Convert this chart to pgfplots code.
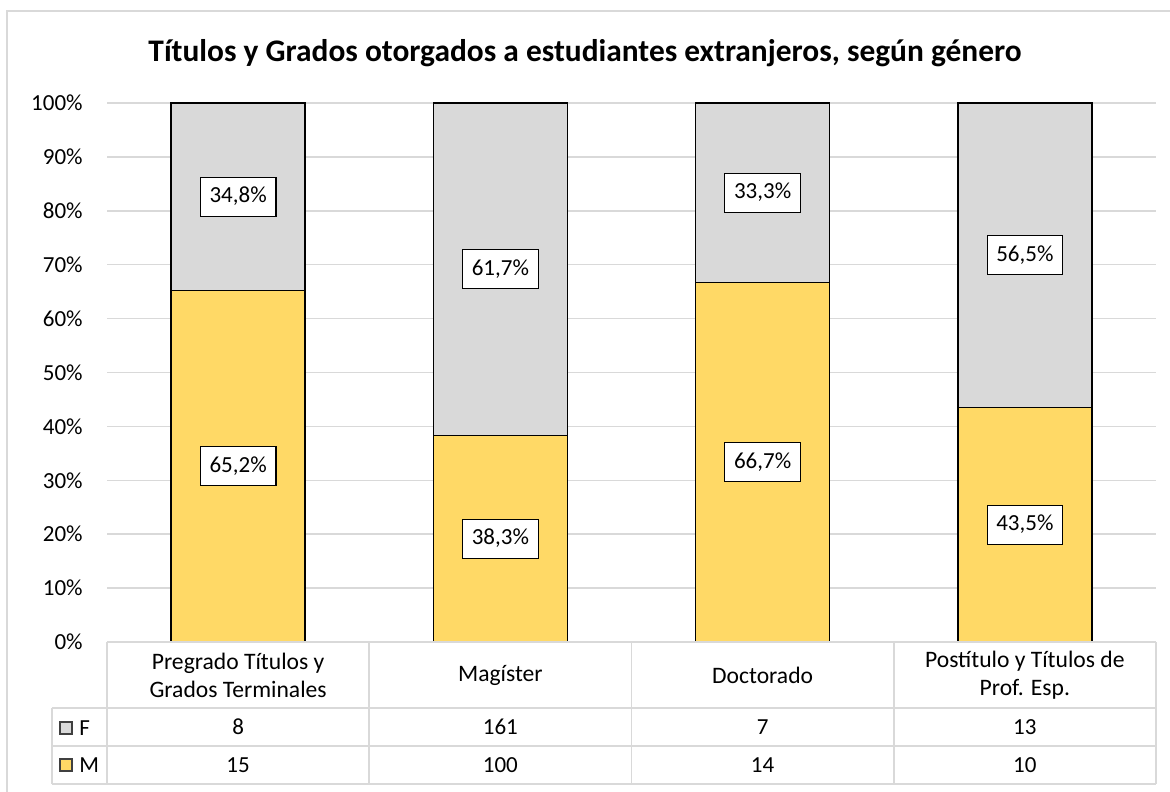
\documentclass[border=0pt]{standalone}
\usepackage{fontspec}
\setmainfont{Carlito}
\usepackage{pgfplots}
\usepackage{pgfplotstable}
\pgfplotsset{compat=1.18}
\pgfkeys{/pgf/number format/assume math mode=true}
\definecolor{myyellow}{HTML}{FFD966}
\definecolor{mygray}{HTML}{D9D9D9}
\definecolor{linegray}{HTML}{D9D9D9}
\newcommand\tfont{\fontsize{11.5}{14}\selectfont}

\pgfplotstableread{
x   Mp   Fp   Mn  Fn
0.5 65.2 34.8 15  8
1.5 38.3 61.7 100 161
2.5 66.7 33.3 14  7
3.5 43.5 56.5 10  13
}\datatab

\begin{document}
\begin{tikzpicture}
\begin{scope}[x=0.5pt,y=-0.5pt]
\path[use as bounding box] (0,0) rectangle (1170,791);
\draw[linegray, line width=1pt] (7,795) -- (7,11) -- (1175,11);
\node[font=\bfseries\fontsize{15.7}{19}\selectfont] at (585,53) {Títulos y Grados otorgados a estudiantes extranjeros, según género};
\end{scope}
\begin{axis}[
  at={(53.5pt,-321pt)}, anchor=south west,
  scale only axis, width=524.5pt, height=269.5pt,
  xmin=0, xmax=4, ymin=0, ymax=100,
  ytick={0,10,...,100},
  yticklabels={0\%,10\%,20\%,30\%,40\%,50\%,60\%,70\%,80\%,90\%,100\%},
  xtick={0.5,1.5,2.5,3.5},
  xticklabels={{Pregrado Títulos y\\Grados Terminales},Magíster,Doctorado,{Postítulo y Títulos de\\Prof. Esp.}},
  xticklabel style={align=center, anchor=center, yshift=-16.5pt, font=\fontsize{11.8}{14}\selectfont},
  yticklabel style={anchor=east, inner sep=0pt, xshift=-12pt, font=\tfont},
  clip=false,
  axis line style={draw=none},
  major tick length=0pt,
  ymajorgrids,
  grid style={linegray, line width=0.75pt},
]
\addplot[ybar, bar width=67pt, bar shift=0pt, fill=mygray, draw=black, line width=0.7pt]
  table[x=x, y expr=\thisrow{Mp}+\thisrow{Fp}] \datatab;
\addplot[ybar, bar width=67pt, bar shift=0pt, fill=myyellow, draw=black, line width=0.7pt]
  table[x=x, y=Mp] \datatab;
% percentage labels
\addplot[draw=none, mark=none, point meta=explicit,
  nodes near coords={\pgfmathprintnumber[fixed,fixed zerofill,precision=1,use comma]{\pgfplotspointmeta}\%},
  every node near coord/.append style={anchor=center, draw=black, fill=white, line width=0.6pt,
    inner xsep=4.6pt, inner ysep=5.2pt, text height=7.6pt, text depth=1.6pt, font=\tfont}]
  table[x=x, y expr=\thisrow{Mp}/2, meta=Mp] \datatab;
\addplot[draw=none, mark=none, point meta=explicit,
  nodes near coords={\pgfmathprintnumber[fixed,fixed zerofill,precision=1,use comma]{\pgfplotspointmeta}\%},
  every node near coord/.append style={anchor=center, draw=black, fill=white, line width=0.6pt,
    inner xsep=4.6pt, inner ysep=5.2pt, text height=7.6pt, text depth=1.6pt, font=\tfont}]
  table[x=x, y expr=\thisrow{Mp}+\thisrow{Fp}/2, meta=Fp] \datatab;
% data table values
\addplot[draw=none, mark=none, point meta=explicit symbolic, nodes near coords,
  every node near coord/.append style={anchor=center, inner sep=0pt, font=\tfont}]
  table[x=x, y expr=-15.77, meta=Fn] \datatab;
\addplot[draw=none, mark=none, point meta=explicit symbolic, nodes near coords,
  every node near coord/.append style={anchor=center, inner sep=0pt, font=\tfont}]
  table[x=x, y expr=-22.82, meta=Mn] \datatab;
\end{axis}
\begin{scope}[x=0.5pt,y=-0.5pt]
\draw[linegray, line width=0.8pt]
  (107,642) -- (1156,642)
  (52,708) -- (1156,708)
  (52,746) -- (1156,746)
  (52,784) -- (1156,784)
  (52,708) -- (52,784)
  (107,642) -- (107,784)
  (369.25,642) -- (369.25,784)
  (631.5,642) -- (631.5,784)
  (893.75,642) -- (893.75,784)
  (1156,642) -- (1156,784);
\draw[black!75, fill=mygray, line width=0.6pt] (60,722) rectangle (72,734);
\draw[black!75, fill=myyellow, line width=0.6pt] (60,759) rectangle (72,771);
\node[anchor=west, inner sep=0pt, font=\tfont] at (79,728) {F};
\node[anchor=west, inner sep=0pt, font=\tfont] at (79,765) {M};
\end{scope}
\end{tikzpicture}
\end{document}
